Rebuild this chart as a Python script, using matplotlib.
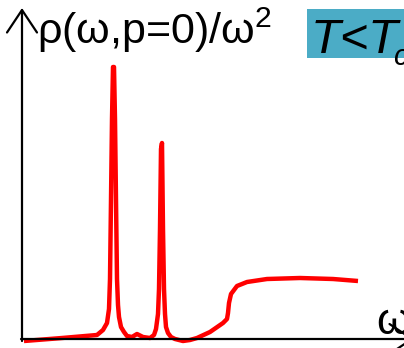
import numpy as np
import matplotlib
matplotlib.use("Agg")
from matplotlib import pyplot as plt
from matplotlib.patches import Rectangle

# spectral function sketch (arbitrary units)
omega = [2, 40, 75, 81, 85, 87, 88, 89, 90, 91, 92, 93, 94, 95, 96, 97, 99, 102,
         105, 110, 115, 121, 128, 132, 134, 136, 137, 138, 139, 140, 141, 142, 143,
         144, 146, 149, 153, 161, 168, 175, 188, 201, 205, 206, 207, 209, 215, 225,
         245, 278, 311, 336]
rho = [-2, 1, 4, 9, 16, 30, 60, 139, 220, 272, 272, 220, 139, 60, 34, 22, 12, 7,
       3, 2, 5, 2, 1, 4, 10, 25, 50, 110, 190, 196, 110, 50, 25, 12, 6, 2, 0, -2,
       -1, 1, 7, 16, 20, 26, 36, 45, 53, 57, 60, 61, 60, 58]

ylabel = "\u03c1(\u03c9,p=0)/\u03c9$^{2}$"
xlabel = "\u03c9"
tag = "T<T"
tag_sub = "c"

plt.rcParams['font.family'] = ['Liberation Sans', 'DejaVu Sans']
plt.rcParams['mathtext.fontset'] = 'custom'
plt.rcParams['mathtext.rm'] = 'Liberation Sans'

fig = plt.figure(figsize=(4.04, 3.48), dpi=100)
ax = fig.add_axes([0, 0, 1, 1])
ax.set_xlim(-22, 382)
ax.set_ylim(-9, 339)
ax.axis('off')

# axes with open arrow heads
arrow = dict(arrowstyle='->, head_length=0.45, head_width=0.3', lw=1.6,
             color='black', mutation_scale=36, shrinkA=0, shrinkB=0)
ax.annotate('', xy=(0, 331), xytext=(0, -2), arrowprops=arrow,
            annotation_clip=False)
ax.annotate('', xy=(392, 0), xytext=(-1, 0), arrowprops=arrow,
            annotation_clip=False)

ax.plot(omega, rho, color='red', lw=3.2, solid_joinstyle='round',
        solid_capstyle='butt')

ax.text(15, 295, ylabel, fontsize=31, ha='left', va='baseline')
ax.text(354, 5, xlabel, fontsize=32, ha='left', va='baseline')

ax.add_patch(Rectangle((285, 281), 120, 49, color='#4BACC6', lw=0, zorder=1))
ax.text(289, 286, tag, fontsize=35, style='italic', ha='left', va='baseline', zorder=2)
ax.text(371, 274, tag_sub, fontsize=21, style='italic', ha='left', va='baseline', zorder=2)

fig.savefig("out.png", dpi=100)
